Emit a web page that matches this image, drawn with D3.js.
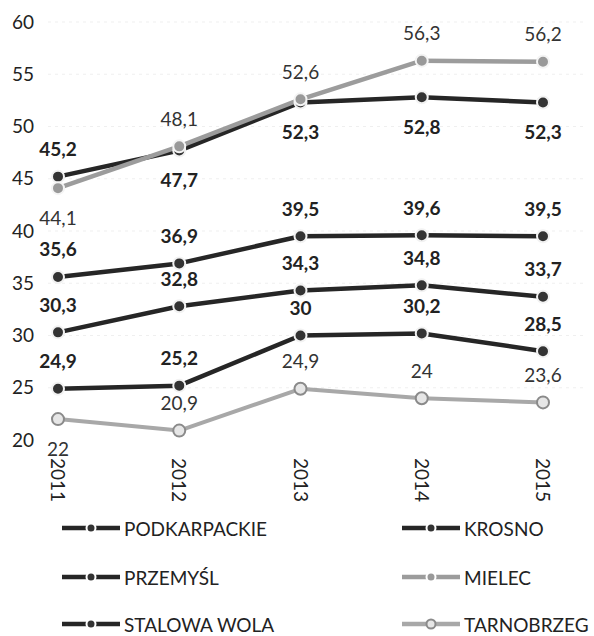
<!DOCTYPE html>
<html>
<head>
<meta charset="utf-8">
<script src="https://cdn.jsdelivr.net/npm/d3@7"></script>
<style>
  html, body { margin: 0; padding: 0; background: #fff; }
  svg { display: block; font-family: Lato, "Open Sans", sans-serif; }
</style>
</head>
<body>
<svg id="chart" width="594" height="636"></svg>
<script>
// ---- data ----
const years = ["2011", "2012", "2013", "2014", "2015"];
const yTicks = [20, 25, 30, 35, 40, 45, 50, 55, 60];

const krosno       = [45.2, 47.7, 52.3, 52.8, 52.3];
const mielec       = [44.1, 48.1, 52.6, 56.3, 56.2];
const podkarpackie = [35.6, 36.9, 39.5, 39.6, 39.5];
const przemysl     = [30.3, 32.8, 34.3, 34.8, 33.7];
const stalowaWola  = [24.9, 25.2, 30.0, 30.2, 28.5];
const tarnobrzeg   = [22.0, 20.9, 24.9, 24.0, 23.6];

// label placement per point: "a" above, "b" below
const krosnoLbl       = ["a", "b", "b", "b", "b"];
const mielecLbl       = ["b", "a", "a", "a", "a"];
const podkarpackieLbl = ["a", "a", "a", "a", "a"];
const przemyslLbl     = ["a", "a", "a", "a", "a"];
const stalowaWolaLbl  = ["a", "a", "a", "a", "a"];
const tarnobrzegLbl   = ["b", "a", "a", "a", "a"];

const series = [
  { name: "PODKARPACKIE", values: podkarpackie, lbl: podkarpackieLbl, kind: "dark" },
  { name: "KROSNO",       values: krosno,       lbl: krosnoLbl,       kind: "dark" },
  { name: "PRZEMYŚL",     values: przemysl,     lbl: przemyslLbl,     kind: "dark" },
  { name: "MIELEC",       values: mielec,       lbl: mielecLbl,       kind: "gray" },
  { name: "STALOWA WOLA", values: stalowaWola,  lbl: stalowaWolaLbl,  kind: "dark" },
  { name: "TARNOBRZEG",   values: tarnobrzeg,   lbl: tarnobrzegLbl,   kind: "light" }
];

const styles = {
  dark:  { line: "#262626", width: 4.5, fill: "#333", stroke: "#f2f2f2", weight: "bold", text: "#222" },
  gray:  { line: "#9c9c9c", width: 4.5, fill: "#999", stroke: "#f4f4f4", weight: "normal", text: "#333" },
  light: { line: "#a8a8a8", width: 4,   fill: "#e6e6e6", stroke: "#8a8a8a", weight: "normal", text: "#333" }
};

// ---- chart ----
const svg = d3.select("#chart");
const x = d3.scalePoint().domain(years).range([58, 543]);
const y = d3.scaleLinear().domain([20, 60]).range([440, 22]);

// faint gridlines
svg.append("g").selectAll("line").data(yTicks.slice(1)).join("line")
  .attr("x1", 48).attr("x2", 585)
  .attr("y1", d => y(d)).attr("y2", d => y(d))
  .attr("stroke", "#efefef").attr("stroke-width", 1).attr("stroke-dasharray", "3,4");

// y axis (labels only)
const yAxis = d3.axisLeft(y).tickValues(yTicks).tickSize(0).tickPadding(0).tickFormat(d3.format("d"));
const gy = svg.append("g").attr("transform", "translate(34,0)").call(yAxis);
gy.select(".domain").remove();
gy.selectAll("text").attr("font-size", 19).attr("fill", "#222")
  .attr("font-family", "Lato, 'Open Sans', sans-serif");

// x axis (rotated labels)
const xAxis = d3.axisBottom(x).tickSize(0).tickPadding(0);
const gx = svg.append("g").attr("transform", "translate(0,458)").call(xAxis);
gx.select(".domain").remove();
gx.selectAll("text")
  .attr("font-size", 19).attr("fill", "#222")
  .attr("font-family", "Lato, 'Open Sans', sans-serif")
  .attr("text-anchor", "start")
  .attr("dy", null).attr("y", 0).attr("x", 0)
  .attr("dominant-baseline", "central")
  .attr("transform", "rotate(90)");

const line = d3.line().x((d, i) => x(years[i])).y(d => y(d));

// lines
series.forEach(s => {
  const st = styles[s.kind];
  svg.append("path").datum(s.values)
    .attr("d", line).attr("fill", "none")
    .attr("stroke", st.line).attr("stroke-width", st.width)
    .attr("stroke-linejoin", "round");
});

// markers
series.forEach(s => {
  const st = styles[s.kind];
  svg.append("g").selectAll("circle").data(s.values).join("circle")
    .attr("cx", (d, i) => x(years[i])).attr("cy", d => y(d))
    .attr("r", 6)
    .attr("fill", st.fill).attr("stroke", st.stroke).attr("stroke-width", 2);
});

// data labels
const fmt = v => String(v).replace(".", ",");
series.forEach(s => {
  const st = styles[s.kind];
  svg.append("g").selectAll("text").data(s.values).join("text")
    .attr("x", (d, i) => x(years[i]))
    .attr("y", (d, i) => y(d) + (s.lbl[i] === "a" ? -28 : 29))
    .attr("text-anchor", "middle").attr("dominant-baseline", "central")
    .attr("font-size", 19).attr("font-weight", st.weight).attr("fill", st.text)
    .text(d => fmt(d));
});

// legend
const legendCols = [62, 402];
const legendRows = [528, 577, 624];
const leg = svg.append("g");
series.forEach((s, i) => {
  const st = styles[s.kind];
  const lx = legendCols[i % 2];
  const ly = legendRows[Math.floor(i / 2)];
  const g = leg.append("g").attr("transform", `translate(${lx},${ly})`);
  g.append("line").attr("x1", 0).attr("x2", 58).attr("y1", 0).attr("y2", 0)
    .attr("stroke", st.line).attr("stroke-width", 4.5);
  g.append("circle").attr("cx", 29).attr("cy", 0).attr("r", 4.5)
    .attr("fill", st.fill).attr("stroke", s.kind === "light" ? st.stroke : "#fff").attr("stroke-width", 2);
  g.append("text").attr("x", 62).attr("y", 0)
    .attr("dominant-baseline", "central")
    .attr("font-size", 19).attr("fill", "#222")
    .text(s.name);
});
</script>
</body>
</html>
